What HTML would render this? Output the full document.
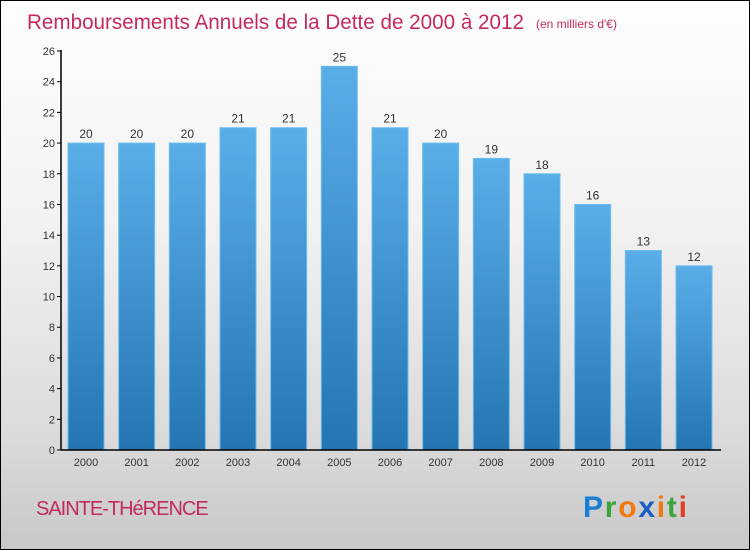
<!DOCTYPE html>
<html><head><meta charset="utf-8"><style>
body{margin:0;}
#wrap{width:748px;height:548px;border:1px solid #000;background:linear-gradient(#fefefe,#f2f2f2 40%,#dadada 80%,#c8c8c8);position:relative;overflow:hidden;font-family:"Liberation Sans",sans-serif;}
</style></head><body>
<div id="wrap">
<svg id="chart" width="748" height="548"></svg>
</div>
<script>
const years=["2000","2001","2002","2003","2004","2005","2006","2007","2008","2009","2010","2011","2012"];
const values=[20,20,20,21,21,25,21,20,19,18,16,13,12];
const yTicks=[0,2,4,6,8,10,12,14,16,18,20,22,24,26];
const svg=document.getElementById('chart');
const NS='http://www.w3.org/2000/svg';
const x0=60,x1=720,yBase=449,yTop=50,yMax=26;
const y=v=>yBase-(yBase-yTop)*v/yMax;
const step=(693-85)/12;
const xc=i=>85+i*step;
function el(t,a,p){const e=document.createElementNS(NS,t);for(const k in a)e.setAttribute(k,a[k]);(p||svg).appendChild(e);return e;}
const defs=el('defs',{});
const g=el('linearGradient',{id:'bg',x1:0,y1:0,x2:0,y2:1},defs);
el('stop',{offset:0,'stop-color':'#5aaee8'},g);el('stop',{offset:1,'stop-color':'#2475b2'},g);
let t=el('text',{x:26,y:28,'font-size':21,fill:'#c42a5e',textLength:497,lengthAdjust:'spacingAndGlyphs'});t.textContent='Remboursements Annuels de la Dette de 2000 à 2012';

t=el('text',{x:535,y:27,'font-size':12,fill:'#c42a5e'});t.textContent='(en milliers d\'€)';

yTicks.forEach(v=>{
 const l=el('line',{x1:x0-4,x2:x0,y1:y(v),y2:y(v),stroke:'#000'});
 
 const tx=el('text',{x:x0-6,y:y(v)+4,'font-size':11,fill:'#333','text-anchor':'end'});tx.textContent=v;
 
});
values.forEach((v,i)=>{
 const r=el('rect',{x:xc(i)-18,y:y(v),width:36,height:yBase-y(v),fill:'url(#bg)',stroke:'#6bbcf0','stroke-width':1});
 
 const lb=el('text',{x:xc(i),y:y(v)-5,'font-size':12,fill:'#333','text-anchor':'middle'});lb.textContent=v;
 
 const xl=el('text',{x:xc(i),y:465,'font-size':11,fill:'#333','text-anchor':'middle'});xl.textContent=years[i];
 
});
let a=el('line',{x1:x0,x2:x0,y1:yTop-1,y2:yBase,stroke:'#000','stroke-width':1.5});

a=el('line',{x1:x0,x2:x1,y1:yBase,y2:yBase,stroke:'#000','stroke-width':1.5});

t=el('text',{x:35,y:514,'font-size':20,fill:'#c42a5e','letter-spacing':'-1'});t.textContent='SAINTE-THéRENCE';

const logo=el('text',{x:582,y:516,'font-size':30,'font-weight':'bold','font-family':'Liberation Sans,sans-serif',textLength:104,lengthAdjust:'spacing'});

[['P','#1a7fd4'],['r','#3aa63a'],['o','#f07a10'],['x','#1a5fc4'],['i','#f07a10'],['t','#3aa63a'],['i','#e04020']].forEach(([c,f])=>{const s=el('tspan',{fill:f},logo);s.textContent=c;});
</script>
</body></html>
